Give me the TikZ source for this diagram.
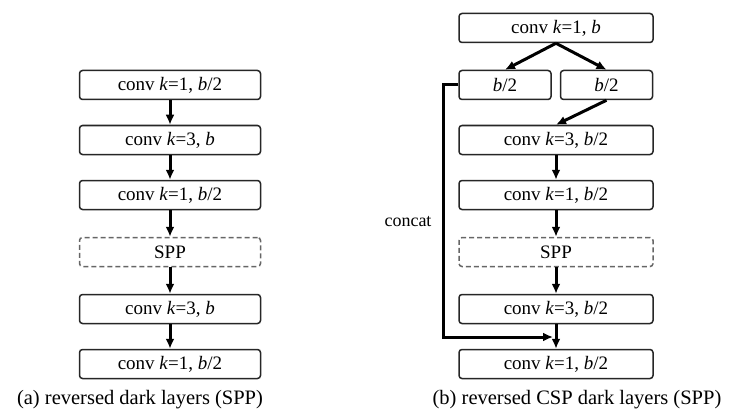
\documentclass[tikz,border=0pt]{standalone}
\usepackage{fontspec}
\setmainfont{Liberation Serif}
\usetikzlibrary{arrows.meta}
\begin{document}
\begin{tikzpicture}[x=1pt,y=-1pt,
  blk/.style={draw=black!85, line width=1.5pt, rounded corners=3pt,
    minimum height=29pt, inner sep=0pt, fill=white,
    font=\fontsize{19}{22}\selectfont},
  wide/.style={blk, minimum width=181pt},
  wider/.style={blk, minimum width=194pt},
  half/.style={blk, minimum width=92pt},
  sppbox/.style={blk, draw=black!60, dash pattern=on 5pt off 3pt},
  flow/.style={-{Latex[length=10pt,width=9pt]}, line width=3pt},
  captxt/.style={font=\fontsize{20.5}{24}\selectfont, inner sep=0pt},
  lbl/.style={font=\fontsize{18}{21}\selectfont, inner sep=0pt},
]
\useasboundingbox (0,0) rectangle (729,420);

% (a) reversed dark layers
\node[wide] (a1) at (170,85)  {conv \textit{k}=1, \textit{b}/2};
\node[wide] (a2) at (170,140) {conv \textit{k}=3, \textit{b}};
\node[wide] (a3) at (170,195) {conv \textit{k}=1, \textit{b}/2};
\node[wide,sppbox] (a4) at (170,252) {SPP};
\node[wide] (a5) at (170,309) {conv \textit{k}=3, \textit{b}};
\node[wide] (a6) at (170,364) {conv \textit{k}=1, \textit{b}/2};
\foreach \u/\v in {a1/a2,a2/a3,a3/a4,a4/a5,a5/a6}
  \draw[flow] (\u.south) -- (\v.north);

% (b) reversed CSP dark layers
\node[wider] (b0) at (556,28)  {conv \textit{k}=1, \textit{b}};
\node[half]  (bl) at (505,85)  {\textit{b}/2};
\node[half]  (br) at (606.5,85) {\textit{b}/2};
\node[wider] (b2) at (556,140) {conv \textit{k}=3, \textit{b}/2};
\node[wider] (b3) at (556,195) {conv \textit{k}=1, \textit{b}/2};
\node[wider,sppbox] (b4) at (556,252) {SPP};
\node[wider] (b5) at (556,309) {conv \textit{k}=3, \textit{b}/2};
\node[wider] (b6) at (556,364) {conv \textit{k}=1, \textit{b}/2};

\draw[flow] (b0.south) -- (bl.north);
\draw[flow] (b0.south) -- (br.north);
\draw[flow] (br.south) -- (b2.north);
\foreach \u/\v in {b2/b3,b3/b4,b4/b5,b5/b6}
  \draw[flow] (\u.south) -- (\v.north);

% concat shortcut
\coordinate (cl) at (443,85);
\coordinate (cb) at (443,337);
\coordinate (cj) at (553,337);
\draw[flow, line join=miter] (bl.west) -- (cl) -- (cb) -- (cj);
\node[lbl] (ct) at (408,222) {concat};

% captions
\node[captxt] (ca) at (140,400) {(a) reversed dark layers (SPP)};
\node[captxt] (cbp) at (577,400) {(b) reversed CSP dark layers (SPP)};
\end{tikzpicture}
\end{document}
